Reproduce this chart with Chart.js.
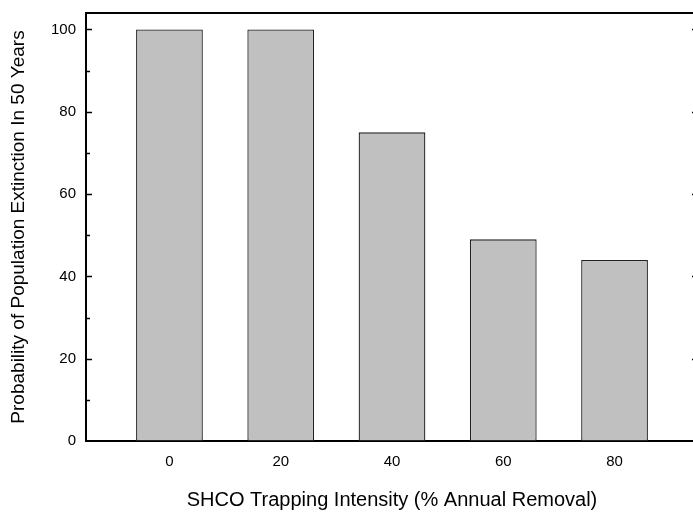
<!DOCTYPE html>
<html lang="en">

<head>
    <meta charset="UTF-8">
    <title>SHCO Trapping Intensity</title>
    <script src="https://cdn.jsdelivr.net/npm/chart.js@4.4.1/dist/chart.umd.min.js"></script>
    <style>
        html, body { margin: 0; padding: 0; background: #fff; overflow: hidden; }
        #wrap { width: 693px; height: 513px; overflow: hidden; }
    </style>
</head>

<body>
    <div id="wrap">
        <canvas id="extinctionChart" width="700" height="513"></canvas>
    </div>

    <script>
        // trapping intensity (% annual removal) and extinction probability (%)
        const intensity = [0, 20, 40, 60, 80];
        const extinction = [100, 100, 75, 49, 44];
        const yTicks = [0, 20, 40, 60, 80, 100];

        const font = 'Liberation Sans, Arial, sans-serif';

        // ticks pointing into the plot, plus the frame on top / right
        const frameTicks = {
            id: 'frameTicks',
            afterDraw(chart) {
                const ctx = chart.ctx;
                const area = chart.chartArea;
                const y = chart.scales.y;
                ctx.save();
                ctx.strokeStyle = '#000';
                ctx.lineWidth = 2;
                ctx.beginPath();
                ctx.moveTo(area.left - 1, area.top);
                ctx.lineTo(area.right, area.top);
                ctx.lineTo(area.right, area.bottom);
                ctx.stroke();

                ctx.lineWidth = 1.5;
                for (let v = 10; v <= 100; v += 10) {
                    const py = Math.round(y.getPixelForValue(v)) + 0.5;
                    const len = yTicks.includes(v) ? 6 : 4;
                    ctx.beginPath();
                    ctx.moveTo(area.left, py);
                    ctx.lineTo(area.left + len, py);
                    ctx.moveTo(area.right, py);
                    ctx.lineTo(area.right - len, py);
                    ctx.stroke();
                }
                ctx.restore();
            }
        };

        const ctx = document.getElementById('extinctionChart').getContext('2d');
        new Chart(ctx, {
            type: 'bar',
            data: {
                datasets: [{
                    data: intensity.map((x, i) => ({ x: x, y: extinction[i] })),
                    backgroundColor: '#c0c0c0',
                    borderColor: '#222222',
                    borderWidth: 1.3,
                    borderSkipped: false,
                    barPercentage: 0.6,
                    categoryPercentage: 1
                }]
            },
            options: {
                responsive: false,
                animation: false,
                layout: { padding: { top: 13, right: 2, bottom: 0, left: 0 } },
                plugins: {
                    legend: { display: false },
                    tooltip: { enabled: false }
                },
                scales: {
                    x: {
                        type: 'linear',
                        offset: false,
                        min: -15,
                        max: 95,
                        afterFit: scale => {
                            scale.height = 72;
                            scale.paddingLeft = 0;
                            scale.paddingRight = 0;
                        },
                        grid: { display: false, drawTicks: false },
                        border: { display: true, color: '#000', width: 2 },
                        ticks: {
                            stepSize: 20,
                            includeBounds: false,
                            padding: 12,
                            color: '#000',
                            font: { family: font, size: 15 }
                        },
                        title: {
                            display: true,
                            text: 'SHCO Trapping Intensity (% Annual Removal)',
                            color: '#000',
                            font: { family: font, size: 20 },
                            padding: { top: 0, bottom: 1 }
                        }
                    },
                    y: {
                        min: 0,
                        max: 104,
                        afterFit: scale => {
                            scale.width = 86;
                            scale.paddingTop = 0;
                            scale.paddingBottom = 0;
                        },
                        grid: { display: false, drawTicks: false },
                        border: { display: true, color: '#000', width: 2 },
                        ticks: {
                            stepSize: 20,
                            includeBounds: false,
                            padding: 10,
                            color: '#000',
                            font: { family: font, size: 15 }
                        },
                        afterBuildTicks: scale => {
                            scale.ticks = yTicks.map(v => ({ value: v }));
                        },
                        title: {
                            display: true,
                            text: 'Probability of Population Extinction In 50 Years',
                            color: '#000',
                            font: { family: font, size: 19 },
                            padding: { top: 7, bottom: 0 }
                        }
                    }
                }
            },
            plugins: [frameTicks]
        });
    </script>
</body>

</html>
